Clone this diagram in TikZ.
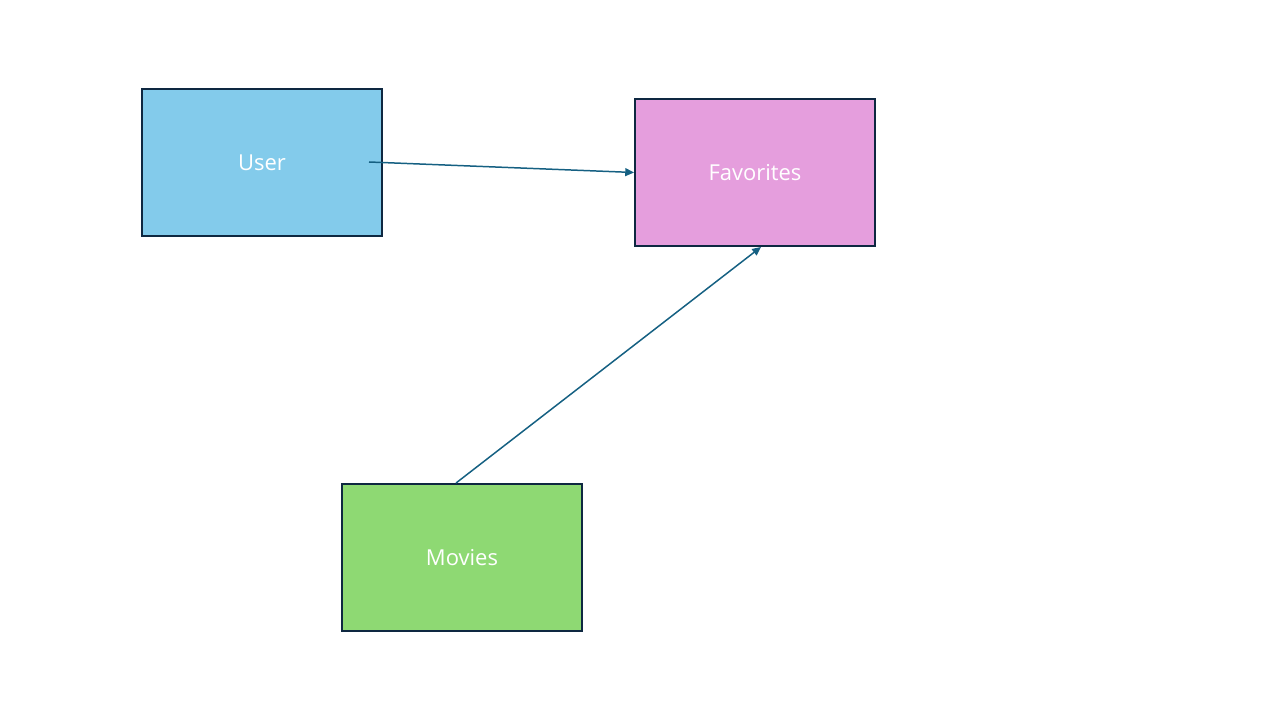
\documentclass[tikz,border=0pt]{standalone}
\usepackage{fontspec}
\setmainfont{Open Sans}
\usetikzlibrary{arrows.meta}
\definecolor{userfill}{HTML}{83CBEB}
\definecolor{favfill}{HTML}{E59EDD}
\definecolor{movfill}{HTML}{8ED973}
\definecolor{boxline}{HTML}{0E2841}
\definecolor{arrowcol}{HTML}{156082}
\tikzset{
  entity/.style={draw=boxline, line width=1.1pt, minimum width=4.8cm, minimum height=2.94cm,
    text=white, font=\fontsize{12.5}{15}\selectfont, inner sep=0pt},
  link/.style={draw=arrowcol, line width=0.85pt, -{Triangle[length=5pt,width=4.5pt]}}
}
\begin{document}
\begin{tikzpicture}
\useasboundingbox (0,0) rectangle (25.6,14.4);
\node[entity, fill=userfill] (user) at (5.24,11.15) {User};
\node[entity, fill=favfill] (fav) at (15.1,10.95) {Favorites};
\node[entity, fill=movfill] (mov) at (9.24,3.25) {Movies};
\coordinate (ustart) at (7.38,11.16);
\draw[link] (ustart) -- (fav.west);
\draw[link] ([xshift=-0.12cm]mov.north) -- ([xshift=0.12cm]fav.south);
\end{tikzpicture}
\end{document}
